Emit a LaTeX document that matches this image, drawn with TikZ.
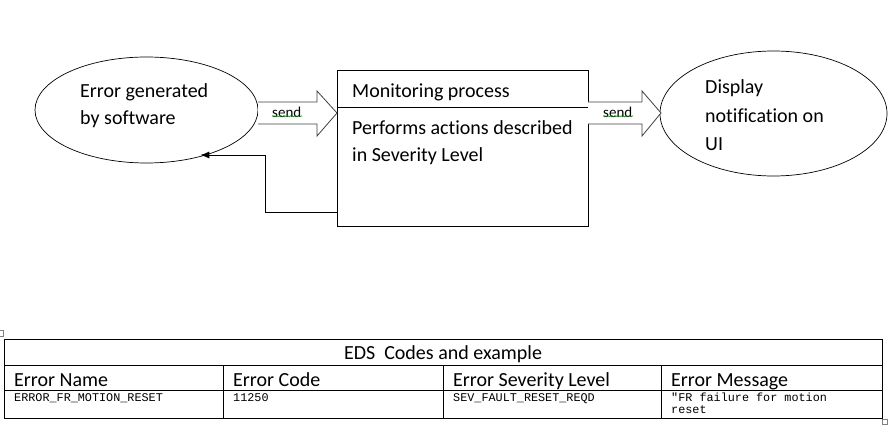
\documentclass[tikz,border=0pt]{standalone}
\usepackage{fontspec}
\setmainfont[Ligatures=NoCommon]{Carlito}
\setmonofont{Liberation Mono}
\usetikzlibrary{shapes.geometric,decorations.pathmorphing,arrows.meta}
\tikzset{
  txt/.style={anchor=base west, inner sep=0pt, font=\fontsize{20}{27}\selectfont},
  sendtxt/.style={anchor=base west, inner sep=0pt, font=\fontsize{15}{17}\selectfont},
  codetxt/.style={anchor=base west, inner sep=0pt, font=\ttfamily\fontsize{11.8}{12.5}\selectfont},
  blockarrow/.style={draw=black!75, line width=.8pt, fill=white},
  squiggle/.style={draw=green!55!black, decorate, decoration={snake, amplitude=.6pt, segment length=2.2pt}, line width=.5pt},
}
\begin{document}
\begin{tikzpicture}[>={Latex[length=9pt,width=7pt]}, x=1pt, y=-1pt]
\useasboundingbox (0,0) rectangle (889,425);
% shapes
\node[ellipse, draw, line width=.7pt, minimum width=223, minimum height=106, inner sep=0pt] (err) at (146.5,110) {};
\node[ellipse, draw, line width=.7pt, minimum width=227, minimum height=125, inner sep=0pt] (ui) at (773.5,113.5) {};
\draw[line width=.7pt] (337,70.7) rectangle (588,226);
\node[minimum width=251, minimum height=155.3, inner sep=0pt] (box) at (462.5,148.35) {};
\draw[line width=.7pt] (337,107) -- (588,107);
% texts
\node[txt] (t1) at (80,98) {Error generated};
\node[txt] (t2) at (80,125) {by software};
\node[txt] (t3) at (352,98) {Monitoring process};
\node[txt] (t4) at (352,135) {Performs actions described};
\node[txt] (t5) at (352,162) {in Severity Level};
\node[txt] (t6) at (705,94) {Display};
\node[txt] (t7) at (705,123) {notification on};
\node[txt] (t8) at (705,151) {UI};
% send arrows
\draw[blockarrow] (258,102)--(317,102)--(317,91)--(337,113)--(317,136)--(317,124)--(258,124);
\draw[blockarrow] (588,102)--(642,102)--(642,91)--(661,113)--(642,136)--(642,124)--(588,124);
\foreach \x/\n in {272/sendL, 603/sendR}
{
    \node[sendtxt] (\n) at (\x,118) {send};
    \draw[squiggle] (\n.south west)++(0,-2) -- ++(30,0);
}
% feedback
\coordinate (back) at (265,155);
\draw[->, line width=.8pt] ([yshift=14pt]box.south west) -| (back) -- (back -| err.-41);
% table
\draw[line width=.7pt] (4,339) rectangle (882,418);
\draw[line width=.7pt] (4,365.5) -- (882,365.5);
\draw[line width=.7pt] (4,390.5) -- (882,390.5);
\foreach \x in {223,443,661}
{
    \draw[line width=.7pt] (\x,365.5) -- (\x,418);
}
\node[txt, anchor=base] (title) at (443,359) {EDS\ \ Codes and example};
\foreach \x/\t [count=\i] in {14/Error Name, 233/Error Code, 453/Error Severity Level, 671/Error Message}
{
    \node[txt] (head\i) at (\x,386) {\t};
}
\node[codetxt] (c1) at (14,401) {ERROR\_FR\_MOTION\_RESET};
\node[codetxt] (c2) at (233,401) {11250};
\node[codetxt] (c3) at (453,401) {SEV\_FAULT\_RESET\_REQD};
\node[codetxt] (c4) at (671,401) {"FR failure for motion};
\node[codetxt] (c5) at (671,413) {reset};
% table handles
\draw[gray, line width=.5pt] (-1,330) rectangle (3,336);
\draw[gray, line width=.5pt] (882.5,419.5) rectangle (887,424);
\end{tikzpicture}
\end{document}
